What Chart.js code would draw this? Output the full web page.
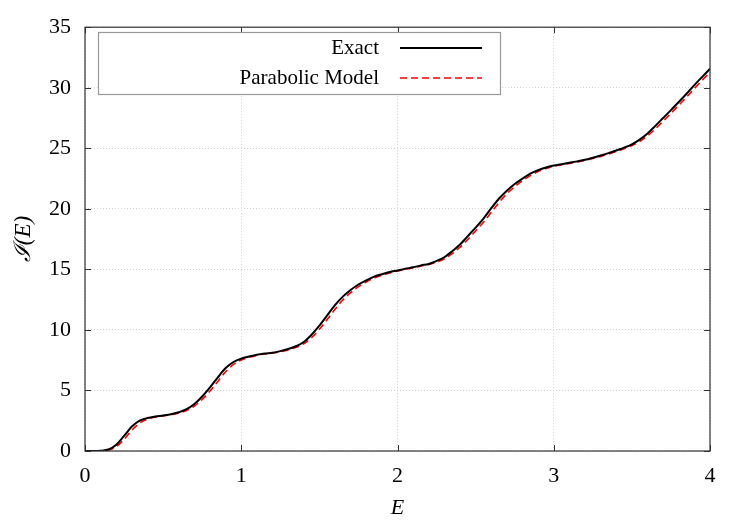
<!DOCTYPE html>
<html>
<head>
<meta charset="utf-8">
<script src="https://cdn.jsdelivr.net/npm/chart.js@4.4.1/dist/chart.umd.min.js"></script>
<style>
html,body{margin:0;padding:0;background:#fff;}
#wrap{width:750px;height:525px;position:relative;}
</style>
</head>
<body>
<div id="wrap"><canvas id="c" width="750" height="525"></canvas></div>
<script>
const energies = [0.00,0.05,0.10,0.15,0.20,0.25,0.30,0.35,0.40,0.45,
  0.50,0.55,0.60,0.65,0.70,0.75,0.80,0.85,0.90,0.95,
  1.00,1.05,1.10,1.15,1.20,1.25,1.30,1.35,1.40,1.45,
  1.50,1.55,1.60,1.65,1.70,1.75,1.80,1.85,1.90,1.95,
  2.00,2.05,2.10,2.15,2.20,2.25,2.30,2.35,2.40,2.45,
  2.50,2.55,2.60,2.65,2.70,2.75,2.80,2.85,2.90,2.95,
  3.00,3.05,3.10,3.15,3.20,3.25,3.30,3.35,3.40,3.45,
  3.50,3.55,3.60,3.65,3.70,3.75,3.80,3.85,3.90,3.95,4.00];
const exactValues = [0,0,0.02,0.12,0.52,1.25,2.02,2.5,2.73,2.85,
  2.93,3.03,3.2,3.45,3.88,4.5,5.25,6.08,6.85,7.35,
  7.63,7.8,7.95,8.05,8.12,8.25,8.42,8.65,9.0,9.6,
  10.35,11.2,12.05,12.75,13.3,13.75,14.1,14.4,14.6,14.78,
  14.91,15.05,15.17,15.33,15.45,15.7,16.0,16.5,17.05,17.75,
  18.45,19.2,20.05,20.85,21.5,22.05,22.5,22.9,23.2,23.42,
  23.57,23.68,23.8,23.92,24.05,24.22,24.4,24.6,24.82,25.05,
  25.33,25.72,26.22,26.85,27.5,28.15,28.82,29.5,30.22,30.9,31.57];
const modelValues = [0,0,0.01,0.08,0.36,0.96,1.71,2.31,2.64,2.8,
  2.9,3.0,3.13,3.35,3.71,4.25,4.95,5.75,6.54,7.15,
  7.52,7.73,7.89,8.01,8.09,8.2,8.35,8.56,8.86,9.36,
  10.05,10.86,11.71,12.47,13.08,13.57,13.96,14.28,14.52,14.71,
  14.86,15.0,15.12,15.27,15.4,15.6,15.88,16.3,16.83,17.47,
  18.17,18.9,19.71,20.53,21.24,21.83,22.32,22.74,23.08,23.33,
  23.51,23.64,23.75,23.87,24.0,24.15,24.33,24.52,24.73,24.96,
  25.22,25.56,26.02,26.6,27.24,27.89,28.55,29.23,29.93,30.63,31.25];
const seriesNames = ["Exact","Parabolic Model"];
const xTicks = [0,1,2,3,4];
const yTicks = [0,5,10,15,20,25,30,35];

const SERIF = "'Liberation Serif', 'DejaVu Serif', serif";

const framePlugin = {
  id: 'frame',
  afterDatasetsDraw(chart){
    const {ctx, chartArea:a, scales} = chart;
    ctx.save();
    ctx.strokeStyle = '#333';
    ctx.lineWidth = 1;
    ctx.beginPath();
    xTicks.forEach(v=>{
      const px = Math.round(scales.x.getPixelForValue(v))+0.5;
      ctx.moveTo(px,a.bottom); ctx.lineTo(px,a.bottom-6);
      ctx.moveTo(px,a.top); ctx.lineTo(px,a.top+6);
    });
    yTicks.forEach(v=>{
      const py = Math.round(scales.y.getPixelForValue(v))+0.5;
      ctx.moveTo(a.left,py); ctx.lineTo(a.left+6,py);
      ctx.moveTo(a.right,py); ctx.lineTo(a.right-6,py);
    });
    ctx.stroke();
    ctx.lineWidth = 1.2;
    ctx.strokeRect(a.left, a.top, a.right-a.left, a.bottom-a.top);
    // legend
    const bx=98, by=32, bw=402, bh=62;
    ctx.fillStyle='#fff';
    ctx.fillRect(bx,by,bw,bh);
    ctx.strokeStyle='#999';
    ctx.lineWidth=1.2;
    ctx.strokeRect(bx+0.5,by+0.5,bw,bh);
    ctx.font = "21px " + SERIF;
    ctx.fillStyle='#000';
    ctx.textAlign='right';
    ctx.textBaseline='middle';
    const rows=[48,78];
    const styles=[{c:'#000',w:2,d:[]},{c:'#ff0000',w:1.6,d:[7,4]}];
    seriesNames.forEach((n,i)=>{
      ctx.fillText(n,379,rows[i]);
      ctx.beginPath();
      ctx.setLineDash(styles[i].d);
      ctx.strokeStyle=styles[i].c;
      ctx.lineWidth=styles[i].w;
      ctx.moveTo(400,rows[i]); ctx.lineTo(482,rows[i]);
      ctx.stroke();
    });
    ctx.restore();
  }
};

const mk = arr => energies.map((e,i)=>({x:e,y:arr[i]}));

new Chart(document.getElementById('c'),{
  type:'line',
  data:{datasets:[
    {label:seriesNames[0],data:mk(exactValues),borderColor:'#000',borderWidth:2,pointRadius:0,cubicInterpolationMode:'monotone',fill:false},
    {label:seriesNames[1],data:mk(modelValues),borderColor:'#ff0000',borderWidth:1.6,borderDash:[7,4],pointRadius:0,cubicInterpolationMode:'monotone',fill:false}
  ]},
  options:{
    responsive:false,
    animation:false,
    layout:{padding:{top:26,right:40,left:0,bottom:0}},
    plugins:{legend:{display:false},tooltip:{enabled:false}},
    scales:{
      x:{type:'linear',min:0,max:4,
        afterBuildTicks:s=>{s.ticks=xTicks.map(v=>({value:v}));},
        afterFit:s=>{s.height=74;},
        grid:{color:'#cfcfcf',lineWidth:1,drawTicks:false},
        border:{display:false,dash:[1,2]},
        ticks:{padding:12,color:'#000',font:{family:SERIF,size:22},maxRotation:0},
        title:{display:true,text:'E',color:'#000',font:{family:SERIF,size:22,style:'italic'},padding:{top:6}}
      },
      y:{type:'linear',min:0,max:35,
        afterBuildTicks:s=>{s.ticks=yTicks.map(v=>({value:v}));},
        afterFit:s=>{s.width=85;},
        grid:{color:'#cfcfcf',lineWidth:1,drawTicks:false},
        border:{display:false,dash:[1,2]},
        ticks:{padding:14,color:'#000',font:{family:SERIF,size:22}},
        title:{display:true,text:'ℐ(E)',color:'#000',font:{family:SERIF,size:23,style:'italic'},padding:{top:10,bottom:6}}
      }
    }
  },
  plugins:[framePlugin]
});
</script>
</body>
</html>
